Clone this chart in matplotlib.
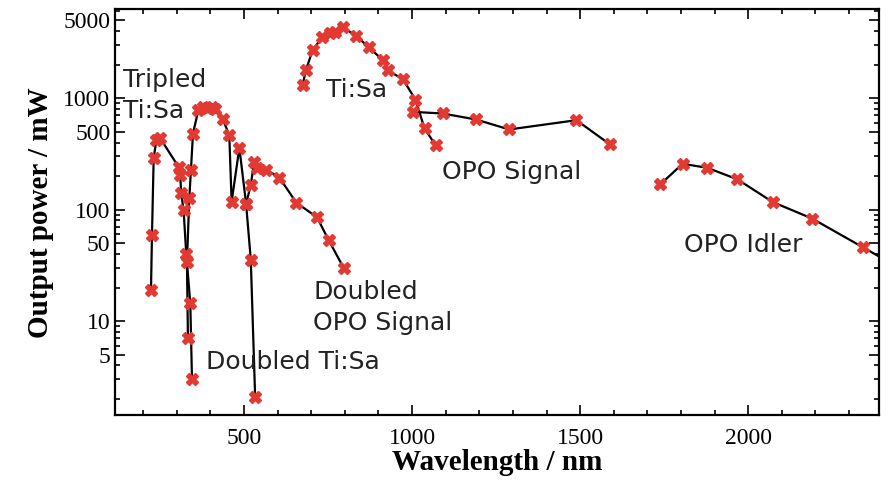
import numpy as np
import matplotlib.pyplot as plt
from matplotlib.ticker import FixedLocator, NullFormatter

# Data

tripled_wl = [223, 226, 231, 239, 251, 305, 310, 313, 320, 328, 340, 345]
tripled_p = [19, 59, 288, 420, 435, 242, 204, 140, 99, 40, 14.4, 3.05]

dbl_tisa_wl = [333, 330, 337, 342, 348, 364, 379, 390, 404, 414, 437, 456, 463, 486, 506, 520, 533]
dbl_tisa_p = [7, 34, 126, 229, 482, 780, 837, 820, 835, 808, 644, 466, 117, 360, 113, 35.6, 2.07]

dbl_opo_wl = [506, 520, 530, 538, 565, 605, 656, 717, 752, 797]
dbl_opo_p = [113, 166, 268, 234, 229, 194, 115, 85.5, 53, 29.8]

tisa_wl = [674, 684, 704, 733, 755, 770, 793, 834, 872, 913, 928, 973, 1010, 1037, 1070]
tisa_p = [1308, 1783, 2698, 3548, 3808, 3937, 4365, 3605, 2852, 2193, 1783, 1472, 973, 535, 378]

opo_sig_wl = [1002, 1091, 1190, 1289, 1489, 1588]
opo_sig_p = [754, 729, 644, 524, 635, 386]

idler_wl = [1739, 1805, 1879, 1968, 2073, 2191, 2341, 2450]
idler_p = [169, 258, 237, 187, 117, 83, 46, 30]

y_major = [5, 10, 50, 100, 500, 1000, 5000]

# Plot

fig = plt.figure(figsize=(8.89, 4.8), dpi=100)
ax = fig.add_axes([0.129, 0.135, 0.860, 0.846])

series = [(tripled_wl, tripled_p), (dbl_tisa_wl, dbl_tisa_p), (dbl_opo_wl, dbl_opo_p),
          (tisa_wl, tisa_p), (opo_sig_wl, opo_sig_p), (idler_wl, idler_p)]
for wl, p in series:
    ax.plot(wl, p, color='black', lw=1.6, zorder=2)
    ax.plot(wl, p, ls='none', marker='X', ms=9, color='#e23a33', mec='#e23a33', zorder=3)

ax.set_yscale('log')
ax.set_xlim(115, 2390)
ax.set_ylim(1.43, 6300)

ax.xaxis.set_major_locator(FixedLocator([500, 1000, 1500, 2000]))
ax.xaxis.set_minor_locator(FixedLocator(np.arange(200, 2400, 100)))
ax.yaxis.set_major_locator(FixedLocator(y_major))
minors = [m * 10 ** k for k in range(0, 4) for m in range(1, 10) if m * 10 ** k not in y_major]
ax.yaxis.set_minor_locator(FixedLocator(minors))
ax.yaxis.set_minor_formatter(NullFormatter())
ax.set_yticklabels([str(v) for v in y_major])

ax.tick_params(which='both', direction='in', top=True, right=True, width=1.2, labelsize=17)
ax.tick_params(axis='x', pad=9)
ax.tick_params(axis='y', pad=3)
ax.tick_params(which='major', length=7)
ax.tick_params(which='minor', length=3.5)
for lab in ax.get_xticklabels() + ax.get_yticklabels():
    lab.set_family('Liberation Serif')
for s in ax.spines.values():
    s.set_linewidth(1.6)

ax.set_xlabel('Wavelength / nm', fontsize=21, fontweight='bold', family='Liberation Serif', labelpad=0)
ax.set_ylabel('Output power / mW', fontsize=21, fontweight='bold', family='Liberation Serif', labelpad=7)

# Annotations
tkw = dict(fontsize=18, color='#222222', family='DejaVu Sans', va='center', ha='left')
ax.text(140, 1060, 'Tripled\nTi:Sa', linespacing=1.35, **tkw)
ax.text(743, 1180, 'Ti:Sa', **tkw)
ax.text(1088, 217, 'OPO Signal', **tkw)
ax.text(1810, 48, 'OPO Idler', **tkw)
ax.text(706, 13.2, 'Doubled\nOPO Signal', linespacing=1.35, **tkw)
ax.text(387, 4.3, 'Doubled Ti:Sa', **tkw)

fig.savefig('out.png', dpi=100)
